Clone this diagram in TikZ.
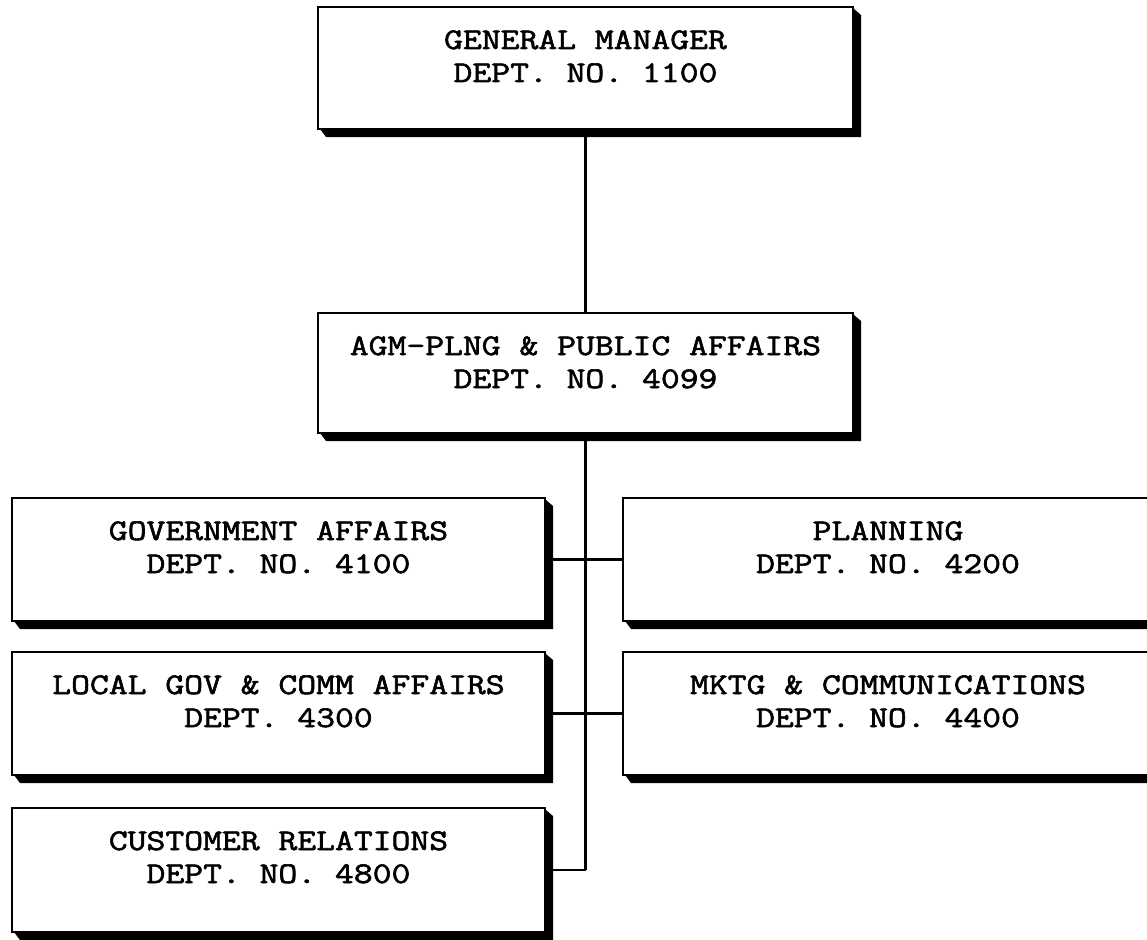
\documentclass[tikz,border=0pt]{standalone}
\usepackage{fontspec}
\newfontfamily\typew[FakeStretch=1.22,FakeBold=2]{Latin Modern Mono}
\begin{document}
\begin{tikzpicture}[x=1pt,y=1pt,
  boxst/.style={draw=black, line width=2.4pt, fill=white, rectangle, inner sep=0pt},
  shadowfill/.style={fill=black},
  txt/.style={anchor=base, inner sep=0pt, font=\typew\fontsize{30}{31}\selectfont},
  conn/.style={draw=black, line width=2.6pt}]
\clip (0,0) rectangle (1147,-939);
\fill[white] (0,0) rectangle (1147,-939);
\newcommand\orgbox[7]{%
  \path[shadowfill] (#2+2,-#5) -- (#2+8,-#5-8) -- (#4+8,-#5-8) -- (#4+8,-#3-8) -- (#4+1,-#3-2) -- (#4,-#5) -- cycle;
  \node[boxst, minimum width=#4-#2, minimum height=#5-#3] (#1) at ({(#2+#4)/2},{-(#3+#5)/2}) {};
  \node[txt] (#1-a) at ({(#2+#4)/2},{-(#3+42)}) {#6};
  \node[txt] (#1-b) at ({(#2+#4)/2},{-(#3+75)}) {#7};
}
\orgbox{gm}{318}{7}{853}{129}{GENERAL MANAGER}{DEPT. NO. 1100}
\orgbox{agm}{318}{313}{853}{433}{AGM-PLNG \& PUBLIC AFFAIRS}{DEPT. NO. 4099}
\orgbox{gov}{12}{498}{545}{621}{GOVERNMENT AFFAIRS}{DEPT. NO. 4100}
\orgbox{plan}{623}{498}{1153}{621}{PLANNING}{DEPT. NO. 4200}
\orgbox{loc}{12}{652}{545}{775}{LOCAL GOV \& COMM AFFAIRS}{DEPT. 4300}
\orgbox{mktg}{623}{652}{1153}{775}{MKTG \& COMMUNICATIONS}{DEPT. NO. 4400}
\orgbox{cust}{12}{808}{545}{932}{CUSTOMER RELATIONS}{DEPT. NO. 4800}
\coordinate (tend) at (agm.south |- cust.east);
\draw[conn] (gm.south) -- (agm.north);
\draw[conn] (agm.south) -- (tend);
\draw[conn] (gov.east) -- (plan.west);
\draw[conn] (loc.east) -- (mktg.west);
\draw[conn] (cust.east) -- (tend);
\end{tikzpicture}
\end{document}
